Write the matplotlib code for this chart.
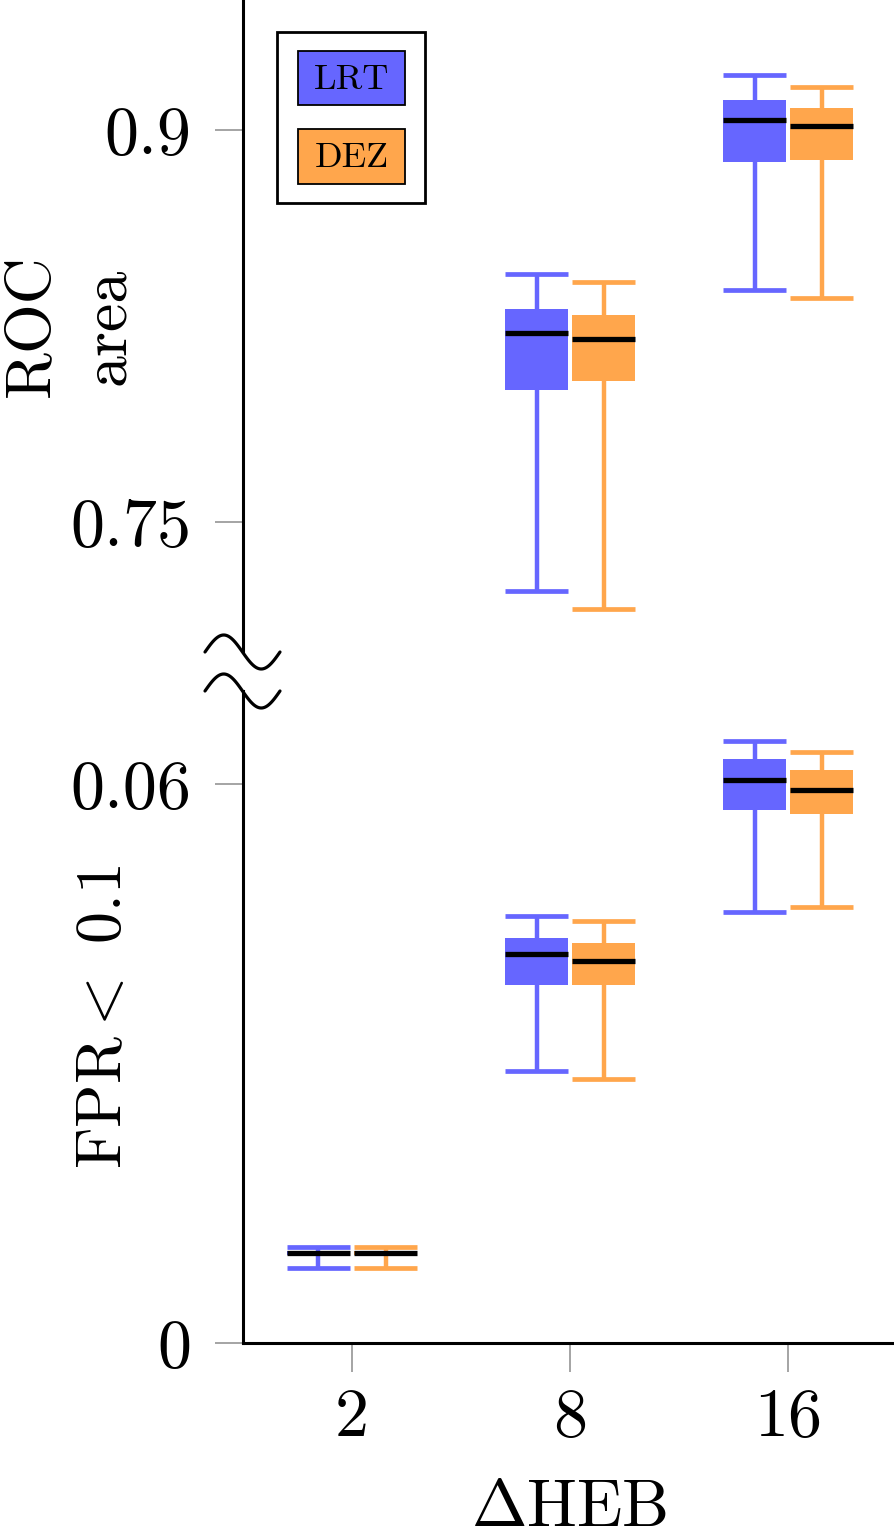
"""
Broken-axis box plots: ROC area and FPR<0.1 for LRT vs DEZ across Delta HEB
"""

import numpy as np
import matplotlib
matplotlib.use('Agg')
import matplotlib.pyplot as plt
from matplotlib.patches import Rectangle
from matplotlib.lines import Line2D

plt.rcParams['font.family'] = 'serif'
plt.rcParams['font.serif'] = ['cmr10']
plt.rcParams['mathtext.fontset'] = 'cm'
plt.rcParams['axes.unicode_minus'] = False

# Data
heb_labels = ['2', '8', '16']
series_names = ['LRT', 'DEZ']
series_colors = ['#6666ff', '#ffa64c']

# five-number summaries per group: [whisker low, q1, median, q3, whisker high]
roc_lrt = [None,
           [0.7232, 0.8006, 0.8222, 0.8317, 0.8448],
           [0.8389, 0.8878, 0.9041, 0.9115, 0.9211]]
roc_dez = [None,
           [0.7165, 0.8038, 0.8199, 0.8293, 0.8417],
           [0.8358, 0.8888, 0.9015, 0.9087, 0.9166]]
fpr_lrt = [[0.00803, 0.00940, 0.00961, 0.00985, 0.01028],
           [0.02923, 0.03843, 0.04172, 0.04344, 0.04583],
           [0.04629, 0.05721, 0.06040, 0.06265, 0.06465]]
fpr_dez = [[0.00807, 0.00940, 0.00961, 0.00985, 0.01034],
           [0.02834, 0.03843, 0.04100, 0.04290, 0.04526],
           [0.04683, 0.05678, 0.05932, 0.06150, 0.06343]]

roc_ticks = [0.75, 0.9]
roc_ticklabels = ['0.75', '0.9']
fpr_ticks = [0, 0.06]
fpr_ticklabels = ['0', '0.06']

W, H = 895, 1527
fig = plt.figure(figsize=(W / 100, H / 100), dpi=100)


def px(x, y):
    """pixel (from top-left) -> figure fraction"""
    return x / W, 1 - y / H


left = 243 / W
width = 1 - left
ax_top = fig.add_axes([left, 1 - 652 / H, width, 652 / H])
ax_bot = fig.add_axes([left, 1 - 1343 / H, width, 652 / H])

offset = 0.154
box_w = 0.29
tick_fs = 49
label_fs = 46


def draw_boxes(ax, summaries, pos_shift, color):
    stats, pos = [], []
    for i, s in enumerate(summaries):
        if s is None:
            continue
        lo, q1, med, q3, hi = s
        stats.append(dict(whislo=lo, q1=q1, med=med, q3=q3, whishi=hi, fliers=[]))
        pos.append(i + pos_shift)
    ax.bxp(stats, positions=pos, widths=box_w, capwidths=box_w, patch_artist=True,
           showfliers=False,
           boxprops=dict(facecolor=color, edgecolor=color, linewidth=0),
           whiskerprops=dict(color=color, linewidth=3.2, solid_capstyle='butt'),
           capprops=dict(color=color, linewidth=3.4, solid_capstyle='butt'),
           medianprops=dict(color='black', linewidth=3.8, solid_capstyle='butt'))


draw_boxes(ax_top, roc_lrt, -offset, series_colors[0])
draw_boxes(ax_top, roc_dez, offset, series_colors[1])
draw_boxes(ax_bot, fpr_lrt, -offset, series_colors[0])
draw_boxes(ax_bot, fpr_dez, offset, series_colors[1])

for ax in (ax_top, ax_bot):
    ax.set_xlim(-0.5, 2.49)
    for side in ('top', 'right'):
        ax.spines[side].set_visible(False)
    ax.spines['left'].set_linewidth(2.2)
    ax.spines['bottom'].set_linewidth(2.2)
    ax.tick_params(axis='y', length=20, width=1.1, color='#8c8c8c', pad=17,
                   labelsize=tick_fs)
    ax.tick_params(axis='x', length=21, width=1.1, color='#8c8c8c', pad=11,
                   labelsize=tick_fs)

ax_top.spines['bottom'].set_visible(False)
ax_top.set_xticks([])
ax_top.set_ylim(0.7, 0.95)
ax_top.set_yticks(roc_ticks)
ax_top.set_yticklabels(roc_ticklabels)

ax_bot.set_ylim(0, 0.07)
ax_bot.set_yticks(fpr_ticks)
ax_bot.set_yticklabels(fpr_ticklabels)
ax_bot.set_xticks(range(len(heb_labels)))
ax_bot.set_xticklabels(heb_labels)
ax_bot.set_xlabel(r'$\Delta$HEB', fontsize=label_fs + 2, labelpad=22)

ax_top.set_ylabel('ROC\narea', fontsize=label_fs, linespacing=1.4)
ax_top.yaxis.set_label_coords(-0.163, 0.5)
ax_bot.set_ylabel(r'FPR$<$ 0.1', fontsize=label_fs)
ax_bot.yaxis.set_label_coords(-0.167, 0.5)

# axis break marks
xs = np.linspace(205, 280, 60)
for cy in (652, 691):
    ys = cy - 17 * np.sin(2 * np.pi * (xs - 205) / 75)
    fx, fy = px(xs, ys)
    fig.add_artist(Line2D(fx, fy, color='black', linewidth=2.3,
                          solid_capstyle='round'))

# legend (drawn by hand, pgfplots style)
x0, y0 = px(277, 203)
x1, y1 = px(425, 32)
fig.add_artist(Rectangle((x0, y0), x1 - x0, y1 - y0, transform=fig.transFigure,
                         facecolor='white', edgecolor='black', linewidth=2.0))
for name, color, (ty, by) in zip(series_names, series_colors, [(51, 105), (129, 184)]):
    rx0, ry0 = px(298, by)
    rx1, ry1 = px(405, ty)
    fig.add_artist(Rectangle((rx0, ry0), rx1 - rx0, ry1 - ry0, transform=fig.transFigure,
                             facecolor=color, edgecolor='black', linewidth=1.3))
    cx, cy = px(351.5, (ty + by) / 2 + 2)
    fig.text(cx, cy, name, ha='center', va='center', fontsize=26)

fig.savefig('out.png', dpi=100, facecolor='white')
